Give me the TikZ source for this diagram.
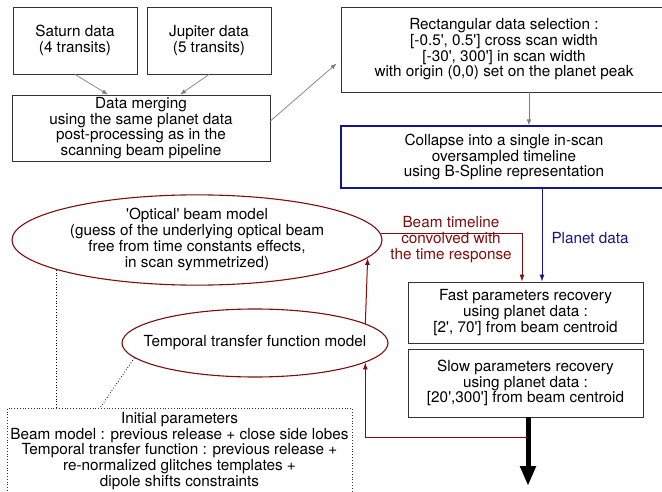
\documentclass[tikz,border=0pt]{standalone}
\usepackage{fontspec}
\setmainfont{TeX Gyre Heros}
\usetikzlibrary{arrows.meta,shapes.geometric,calc}
\definecolor{bmred}{RGB}{128,12,12}
\definecolor{bmblue}{RGB}{22,22,140}
\definecolor{bmgray}{RGB}{125,125,125}
\newcommand{\bmfont}{\fontsize{15.3}{15.7}\selectfont}
\newcommand{\apos}{\textquotesingle}
% text of an ellipse takes no width, so the ellipse keeps its own size
\newcommand{\bmlines}[1]{\makebox[0pt]{\begin{tabular}{@{}c@{}}#1\end{tabular}}}
\tikzset{
  box/.style={draw=black!80, line width=0.8pt, align=center, inner sep=0pt, font=\bmfont},
  bluebox/.style={box, draw=bmblue, line width=1.1pt},
  model/.style={ellipse, draw=bmred, line width=1.1pt, inner sep=0pt, font=\bmfont},
  initbox/.style={draw=black!80, dotted, line width=0.8pt, align=center, inner xsep=0pt, inner ysep=4pt, font=\bmfont},
  lbl/.style={align=center, inner sep=0pt, font=\bmfont},
  grayarrow/.style={-{Latex[length=6pt,width=4.5pt]}, bmgray, line width=0.7pt},
  redarrow/.style={-{Latex[length=7pt,width=5pt]}, bmred, line width=1pt},
  bluearrow/.style={-{Latex[length=7pt,width=5pt]}, bmblue, line width=1pt},
  output/.style={-{Triangle[length=20pt,width=15pt]}, line width=5pt},
  guide/.style={dotted, line width=0.8pt}
}

\begin{document}
\begin{tikzpicture}[x=1pt,y=-1pt]
  \clip (0,0) rectangle (662,492);
  % data sources
  \node[box, minimum width=124pt, minimum height=67pt] (saturn) at (75,40.5) {Saturn data\\(4 transits)};
  \node[box, minimum width=124pt, minimum height=67pt] (jupiter) at (209,40.5) {Jupiter data\\(5 transits)};
  \node[box, minimum width=258pt, minimum height=66pt] (merge) at (141,128) {Data merging\\using the same planet data\\post-processing as in the\\scanning beam pipeline};
  % selection and collapse
  \node[box, minimum width=326pt, minimum height=85pt] (select) at (504,49.5) {Rectangular data selection :\\{}[-0.5\apos, 0.5\apos] cross scan width\\{}[-30\apos, 300\apos] in scan width\\with origin (0,0) set on the planet peak};
  \node[bluebox, minimum width=326pt, minimum height=62pt] (collapse) at (504,157) {Collapse into a single in-scan\\oversampled timeline\\using B-Spline representation};
  % recovery steps
  \node[box, minimum width=235pt, minimum height=61pt] (fast) at (525.5,312.5) {Fast parameters recovery\\using planet data :\\{}[2\apos, 70\apos] from beam centroid};
  \node[box, minimum width=235pt, minimum height=68pt] (slow) at (525.5,383) {Slow parameters recovery\\using planet data :\\{}[20\apos,300\apos] from beam centroid};
  % models
  \node[model, minimum width=370pt, minimum height=88pt] (optical) at (197,240) {\bmlines{\apos Optical\apos{} beam model\\(guess of the underlying optical beam\\free from time constants effects,\\in scan symmetrized)}};
  \node[model, minimum width=266pt, minimum height=68pt] (tempo) at (255,343) {\bmlines{Temporal transfer function model}};
  \node[initbox, minimum width=345pt, anchor=north] (init) at (179.5,408) {Initial parameters\\Beam model : previous release + close side lobes\\Temporal transfer function : previous release +\\re-normalized glitches templates +\\dipole shifts constraints};
  \coordinate (fb) at (528,437);
  \coordinate (out) at (528,486);

  \draw[grayarrow] (saturn.south) -- ($(merge.north)+(-33,0)$);
  \draw[grayarrow] (jupiter.south) -- ($(merge.north)+(39,0)$);
  \draw[grayarrow] ($(merge.east)+(0,-7)$) -- ($(select.west)+(-4,14)$);
  \draw[grayarrow] ($(select.south)+(25,0)$) -- ($(collapse.north)+(25,0)$);
  \draw[bluearrow] ($(collapse.south)+(38,0)$) -- ($(fast.north)+(16.5,0)$)
    node[midway, right=9pt, yshift=-3pt, lbl, text=bmblue] (planet) {Planet data};
  \draw[redarrow] (optical.2.5) -| ($(fast.north)+(-3.5,0)$);
  \node[lbl, text=bmred] (conv) at (451,239.5) {Beam timeline\\convolved with\\the time response};
  \draw[output] ($(slow.south)+(2.5,0)$) -- (out);
  \draw[redarrow] (fb) -| (tempo.-10.4);
  \draw[redarrow] (tempo.10.4) -- (optical.-6.7);
  \draw[guide] (optical.192.4) -- (optical.192.4 |- init.north);
  \draw[guide] (tempo.187) -- ($(init.north)+(-79.5,0)$);
\end{tikzpicture}
\end{document}
